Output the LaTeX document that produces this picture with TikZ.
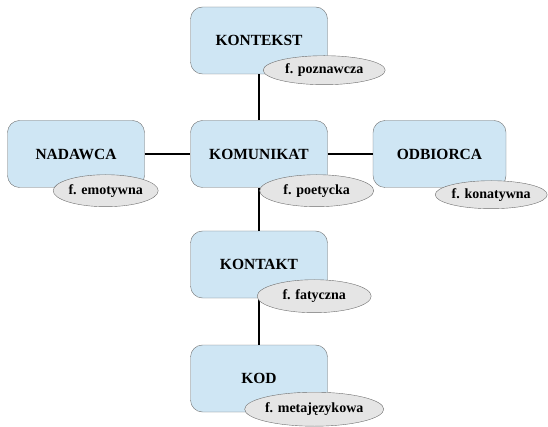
\documentclass[tikz,border=0pt]{standalone}
\usepackage{fontspec}
\setmainfont{Liberation Serif}
\usepackage{tikz}
\usetikzlibrary{shapes.geometric}
\usetikzlibrary{positioning}
\definecolor{blokfill}{RGB}{207,230,244}
\definecolor{blokdraw}{RGB}{110,110,110}
\definecolor{funfill}{RGB}{229,229,229}
\tikzset{
  blok/.style = {rectangle, rounded corners=12pt, draw=blokdraw, fill=blokfill,
    minimum width=137pt, minimum height=67pt, inner sep=0pt,
    font=\fontsize{15.5}{18}\selectfont\bfseries},% bloki modelu
  funkcja/.style = {ellipse, draw=blokdraw, fill=funfill, inner sep=0pt,
    minimum width=114pt, minimum height=32pt,
    font=\fontsize{14}{16}\selectfont\bfseries},% funkcje jezyka
  lacze/.style = {draw=black, line width=1.8pt}
}

\begin{document}
\begin{tikzpicture}[x=1pt,y=-1pt]
\useasboundingbox (0,0) rectangle (548,427);

\node [blok] (kontekst)  at (259,40.5)  {KONTEKST};
\node [blok] (nadawca)   at (76,154)    {NADAWCA};
\node [blok] (komunikat) at (259,154)   {KOMUNIKAT};
\node [blok, minimum width=133pt] (odbiorca) at (439.5,154) {ODBIORCA};
\node [blok] (kontakt)   at (259,264.5) {KONTAKT};
\node [blok] (kod)       at (259,378.5) {KOD};

% polaczenia
\draw [lacze] (kontekst.south) -- (komunikat.north);
\draw [lacze] (nadawca.east) -- (komunikat.west);
\draw [lacze] (komunikat.east) -- (odbiorca.west);
\draw [lacze] (komunikat.south) -- (kontakt.north);
\draw [lacze] (kontakt.south) -- (kod.north);

\node [funkcja, minimum width=122pt, minimum height=29pt] (fpozn)
  at ([xshift=-3.5pt,yshift=4pt]kontekst.south east) {f. poznawcza};
\node [funkcja, minimum width=103pt] (femot)
  at ([xshift=-39pt,yshift=-3pt]nadawca.south east) {f. emotywna};
\node [funkcja] (fpoet)
  at ([xshift=-11pt,yshift=-3pt]komunikat.south east) {f. poetycka};
\node [funkcja, minimum width=112pt, minimum height=28pt] (fkonat)
  at ([xshift=-15pt,yshift=-7pt]odbiorca.south east) {f. konatywna};
\node [funkcja, minimum height=33pt] (ffat)
  at ([xshift=-13.5pt,yshift=2pt]kontakt.south east) {f. fatyczna};
\node [funkcja, minimum height=34pt] (fmeta)
  at ([xshift=-13.5pt,yshift=3pt]kod.south east) {f. metajęzykowa};
\end{tikzpicture}
\end{document}
